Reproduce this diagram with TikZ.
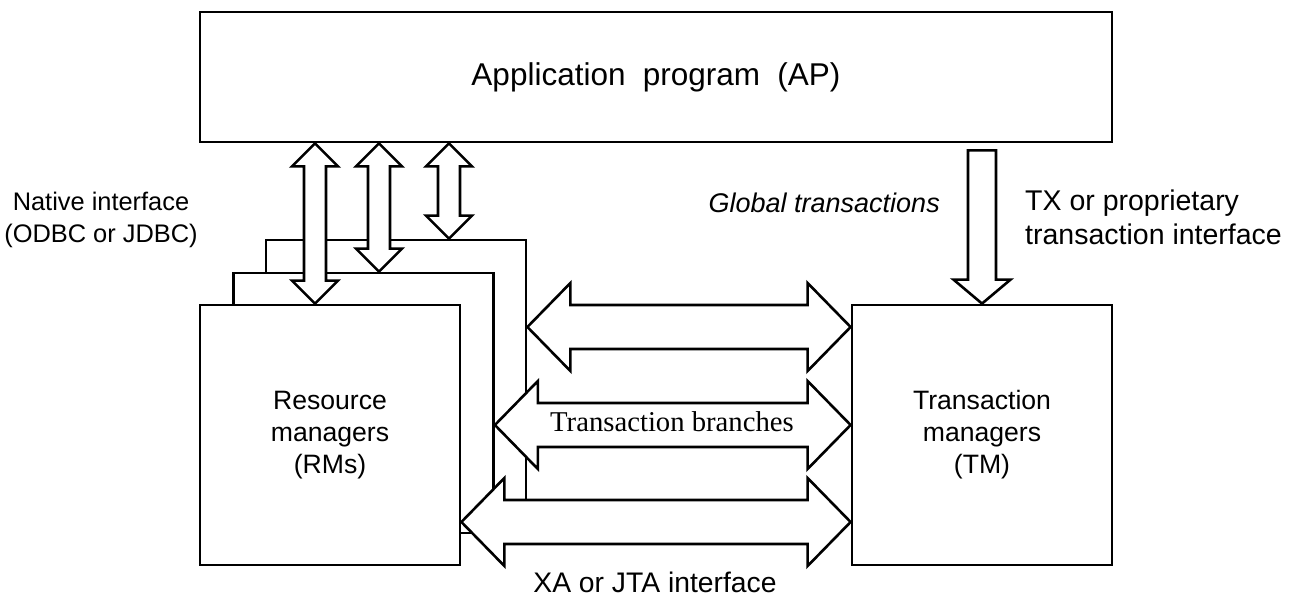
\documentclass[tikz,border=0pt]{standalone}
\usepackage{fontspec}
\setmainfont{Liberation Sans}
\newfontfamily\branchfont{Liberation Serif}
\usetikzlibrary{calc}
\tikzset{
  boxnode/.style={draw, line width=2.8pt, fill=white, rectangle, inner sep=0pt, align=center},
  boxtext/.style={font=\fontsize{26.6}{32}\selectfont},
  blockarrow/.style={draw, line width=2.6pt, fill=white, line join=miter},
  lbl/.style={inner sep=0pt, anchor=base}
}
% vertical double block arrow from #1 (top) to #2 (bottom)
\newcommand\vdblarrow[2]{%
  \draw[blockarrow] let \p1=(#1), \p2=(#2) in
    (\x1,\y1) -- (\x1+23pt,\y1-23pt) -- (\x1+11pt,\y1-23pt) -- (\x1+11pt,\y2+23pt)
    -- (\x1+23pt,\y2+23pt) -- (\x1,\y2) -- (\x1-23pt,\y2+23pt) -- (\x1-11pt,\y2+23pt)
    -- (\x1-11pt,\y1-23pt) -- (\x1-23pt,\y1-23pt) -- cycle;}
% horizontal double block arrow from #1 (left) to #2 (right)
\newcommand\hdblarrow[2]{%
  \draw[blockarrow] let \p1=(#1), \p2=(#2) in
    (\x1,\y1) -- (\x1+43pt,\y1+44pt) -- (\x1+43pt,\y1+22pt) -- (\x2-43pt,\y1+22pt)
    -- (\x2-43pt,\y1+44pt) -- (\x2,\y1) -- (\x2-43pt,\y1-44pt) -- (\x2-43pt,\y1-22pt)
    -- (\x1+43pt,\y1-22pt) -- (\x1+43pt,\y1-44pt) -- cycle;}
% downward block arrow from #1 to #2
\newcommand\downblarrow[2]{%
  \draw[blockarrow] let \p1=(#1), \p2=(#2) in
    (\x1-14pt,\y1) -- (\x1+14pt,\y1) -- (\x1+14pt,\y2+24pt) -- (\x1+28.5pt,\y2+24pt)
    -- (\x1,\y2) -- (\x1-28.5pt,\y2+24pt) -- (\x1-14pt,\y2+24pt) -- cycle;}
\begin{document}
\begin{tikzpicture}[x=1pt,y=-1pt]
\useasboundingbox[fill=white] (0,0) rectangle (1297,599);

% boxes
\node[boxnode, minimum width=912pt, minimum height=130pt,
      font=\fontsize{31.5}{38}\selectfont] (ap) at (656,77)
  {Application\hspace{0.55em}program\hspace{0.55em}(AP)};
\node[boxnode, minimum width=260pt, minimum height=260pt] (rm3) at (396,370) {};
\node[boxnode, minimum width=260pt, minimum height=260pt] (rm2) at (363.5,403) {};
\node[boxnode, boxtext, minimum width=260pt, minimum height=260pt] (rm1) at (330,435)
  {Resource\\managers\\(RMs)};
\node[boxnode, boxtext, minimum width=260pt, minimum height=260pt] (tm) at (982,435)
  {Transaction\\managers\\(TM)};

% native interface arrows
\coordinate (v1t) at (315,0 |- ap.south);
\coordinate (v2t) at (379,0 |- ap.south);
\coordinate (v3t) at (449,0 |- ap.south);
\vdblarrow{v1t}{315,0 |- rm1.north}
\vdblarrow{v2t}{379,0 |- rm2.north}
\vdblarrow{v3t}{449,0 |- rm3.north}

% transaction branches arrows
\coordinate (h1l) at (rm3.east |- 0,327);
\coordinate (h1r) at (tm.west |- 0,327);
\coordinate (h2l) at (rm2.east |- 0,425);
\coordinate (h2r) at (tm.west |- 0,425);
\coordinate (h3l) at (rm1.east |- 0,522);
\coordinate (h3r) at (tm.west |- 0,522);
\hdblarrow{h1l}{h1r}
\hdblarrow{h2l}{h2r}
\hdblarrow{h3l}{h3r}

% TX arrow
\coordinate (txt) at ($(982,0 |- ap.south)+(0,7)$);
\downblarrow{txt}{tm.north}

% labels
\node[lbl, font=\fontsize{25.4}{30}\selectfont] (nat1) at (101,210) {Native interface};
\node[lbl, font=\fontsize{25.4}{30}\selectfont] (nat2) at (101,242) {(ODBC or JDBC)};
\node[lbl, anchor=base east, font=\fontsize{27}{32}\selectfont\itshape] (glob) at (940,212) {Global transactions};
\node[lbl, anchor=base west, font=\fontsize{28.5}{34}\selectfont] (tx1) at (1025,210) {TX or proprietary};
\node[lbl, anchor=base west, font=\fontsize{28.5}{34}\selectfont] (tx2) at (1025,244) {transaction interface};
\node[lbl, font=\branchfont\fontsize{28.7}{34}\selectfont] (br) at (672,431) {Transaction branches};
\node[lbl, font=\fontsize{28.3}{34}\selectfont] (xa) at (655,592) {XA or JTA interface};
\end{tikzpicture}
\end{document}
